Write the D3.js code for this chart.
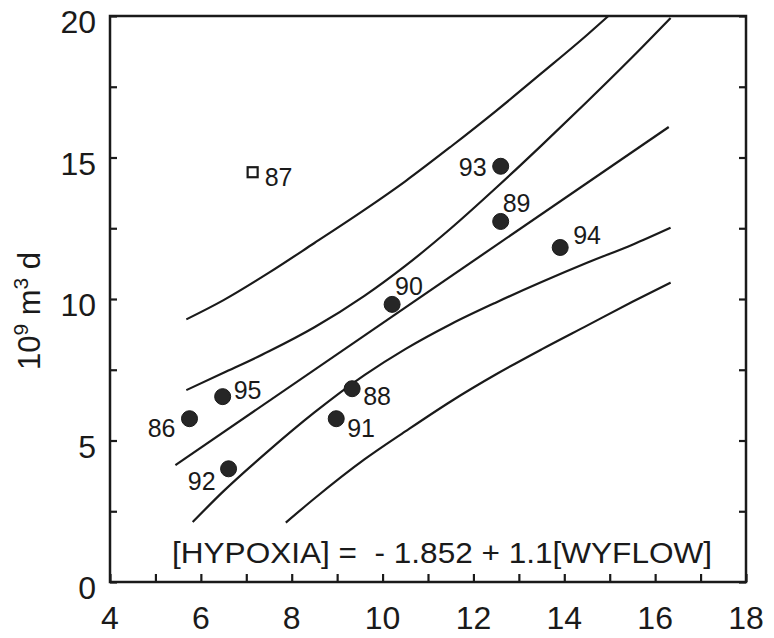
<!DOCTYPE html>
<html>
<head>
<meta charset="utf-8">
<script src="https://cdn.jsdelivr.net/npm/d3@7"></script>
<style>
  html, body { margin: 0; padding: 0; background: #fff; }
  svg { display: block; font-family: "Liberation Sans", Arial, Helvetica, sans-serif; }
</style>
</head>
<body>
<svg id="chart" width="774" height="638"></svg>
<script>
// Annual hypoxic volume vs. spring flow, one filled point per year
const years     = ["86", "95", "92", "88", "91", "90", "93", "89", "94"];
const flowX     = [5.75, 6.48, 6.61, 9.33, 8.98, 10.21, 12.60, 12.60, 13.91];
const hypoxiaY  = [5.77, 6.55, 4.00, 6.83, 5.77, 9.81, 14.69, 12.74, 11.82];

// Year left out of the fit (open square)
const outlierYear = ["87"];
const outlierX    = [7.14];
const outlierY    = [14.48];

// Fitted line: [HYPOXIA] = -1.852 + 1.1[WYFLOW]
const intercept = -1.852;
const slope     = 1.1;
const fitRange  = [5.44, 16.30];

// Confidence band (inner) and prediction band (outer), as [flow, hypoxia]
const upperInner = [[5.68, 6.78], [6.5, 7.39], [7.5, 8.15], [8.5, 9.00], [9.6, 10.11], [10.5, 11.17],
                    [11.5, 12.49], [12.5, 13.93], [13.5, 15.43], [14.5, 16.97], [15.5, 18.55], [16.34, 19.93]];
const lowerInner = [[5.82, 2.12], [6.5, 3.21], [7.5, 4.65], [8.5, 5.99], [9.6, 7.31], [10.5, 8.23],
                    [11.5, 9.11], [12.5, 9.88], [13.5, 10.60], [14.5, 11.28], [15.5, 11.92], [16.34, 12.52]];
const upperOuter = [[5.68, 9.28], [6.5, 9.96], [7.5, 10.93], [8.5, 11.98], [9.6, 13.15], [10.5, 14.16],
                    [11.5, 15.38], [12.5, 16.65], [13.5, 17.98], [14.5, 19.33], [14.97, 20.0]];
const lowerOuter = [[7.87, 2.10], [8.5, 2.95], [9.6, 4.33], [10.5, 5.32], [11.5, 6.38], [12.5, 7.34],
                    [13.5, 8.22], [14.5, 9.06], [15.5, 9.90], [16.34, 10.58]];

// Axis ticks
const xTicks      = [4, 6, 8, 10, 12, 14, 16, 18];
const xMinorTicks = [5, 7, 9, 11, 13, 15, 17];
const yTicks      = [0, 5, 10, 15, 20];
const yMinorTicks = [2.5, 7.5, 12.5, 17.5];

// Label placement around each marker (pixels: dx, baseline dy, anchor)
const labelPlace = {
  "86": [-14, 18, "end"], "95": [11, 2, "start"], "92": [-13, 21, "end"],
  "88": [11, 16, "start"], "91": [11, 18, "start"], "90": [3, -9, "start"],
  "93": [-14, 10, "end"], "89": [2, -9, "start"], "94": [13, -3, "start"],
  "87": [12, 14, "start"]
};

const svg = d3.select("#chart");
const L = 110, R = 746, T = 16, B = 582;

const x = d3.scaleLinear().domain([4, 18]).range([L, R]);
const y = d3.scaleLinear().domain([0, 20]).range([B, T]);

// Frame
svg.append("rect")
  .attr("x", L).attr("y", T).attr("width", R - L).attr("height", B - T)
  .attr("fill", "none").attr("stroke", "#1a1a1a").attr("stroke-width", 2.5);

// Inward ticks on the left, right and bottom edges
function styleTicks(g) {
  g.select(".domain").remove();
  g.selectAll(".tick line").attr("stroke", "#1a1a1a").attr("stroke-width", 2.2);
  g.selectAll("text").remove();
}
svg.append("g").attr("transform", `translate(${L},0)`)
  .call(d3.axisRight(y).tickValues(yTicks.concat(yMinorTicks)).tickSize(7)).call(styleTicks);
svg.append("g").attr("transform", `translate(${R},0)`)
  .call(d3.axisLeft(y).tickValues(yTicks.concat(yMinorTicks)).tickSize(7)).call(styleTicks);
svg.append("g").attr("transform", `translate(0,${B})`)
  .call(d3.axisTop(x).tickValues(xTicks.concat(xMinorTicks)).tickSize(8)).call(styleTicks);

// Tick labels
svg.append("g").selectAll("text").data(yTicks).join("text")
  .attr("x", L - 14).attr("y", d => y(d) + 17)
  .attr("text-anchor", "end").attr("font-size", 32).attr("fill", "#1a1a1a")
  .text(d => d);
svg.append("g").selectAll("text").data(xTicks).join("text")
  .attr("x", d => x(d)).attr("y", B + 47)
  .attr("text-anchor", "middle").attr("font-size", 32).attr("fill", "#1a1a1a")
  .text(d => d);

// Y axis title: 10^9 m^3 d
const yt = svg.append("text")
  .attr("transform", "translate(40,311) rotate(-90)")
  .attr("text-anchor", "middle").attr("font-size", 31).attr("fill", "#1a1a1a");
yt.append("tspan").text("10");
yt.append("tspan").attr("font-size", 21).attr("dy", -12).text("9");
yt.append("tspan").attr("dy", 12).text(" m");
yt.append("tspan").attr("font-size", 21).attr("dy", -12).text("3");
yt.append("tspan").attr("dy", 12).text(" d");

// Regression and band curves
const line = d3.line().x(d => x(d[0])).y(d => y(d[1])).curve(d3.curveMonotoneX);
const fitLine = fitRange.map(v => [v, intercept + slope * v]);
[upperOuter, upperInner, fitLine, lowerInner, lowerOuter].forEach(pts => {
  svg.append("path").attr("d", line(pts))
    .attr("fill", "none").attr("stroke", "#1a1a1a").attr("stroke-width", 2.2);
});

// Year markers
const pts = years.map((yr, i) => ({ yr, fx: flowX[i], hy: hypoxiaY[i] }));
svg.append("g").selectAll("circle").data(pts).join("circle")
  .attr("cx", d => x(d.fx)).attr("cy", d => y(d.hy)).attr("r", 8)
  .attr("fill", "#262626").attr("stroke", "#1a1a1a").attr("stroke-width", 1);

const outs = outlierYear.map((yr, i) => ({ yr, fx: outlierX[i], hy: outlierY[i] }));
svg.append("g").selectAll("rect").data(outs).join("rect")
  .attr("x", d => x(d.fx) - 5).attr("y", d => y(d.hy) - 5)
  .attr("width", 10).attr("height", 10)
  .attr("fill", "#fff").attr("stroke", "#1a1a1a").attr("stroke-width", 2.2);

svg.append("g").selectAll("text").data(pts.concat(outs)).join("text")
  .attr("x", d => x(d.fx) + labelPlace[d.yr][0])
  .attr("y", d => y(d.hy) + labelPlace[d.yr][1])
  .attr("text-anchor", d => labelPlace[d.yr][2])
  .attr("font-size", 25).attr("fill", "#1a1a1a")
  .text(d => d.yr);

// Equation of the fitted line
svg.append("text")
  .attr("x", 172).attr("y", 563)
  .attr("font-size", 30).attr("fill", "#1a1a1a")
  .attr("textLength", 540).attr("lengthAdjust", "spacingAndGlyphs")
  .attr("xml:space", "preserve")
  .text("[HYPOXIA] =  - 1.852 + 1.1[WYFLOW]");
</script>
</body>
</html>
